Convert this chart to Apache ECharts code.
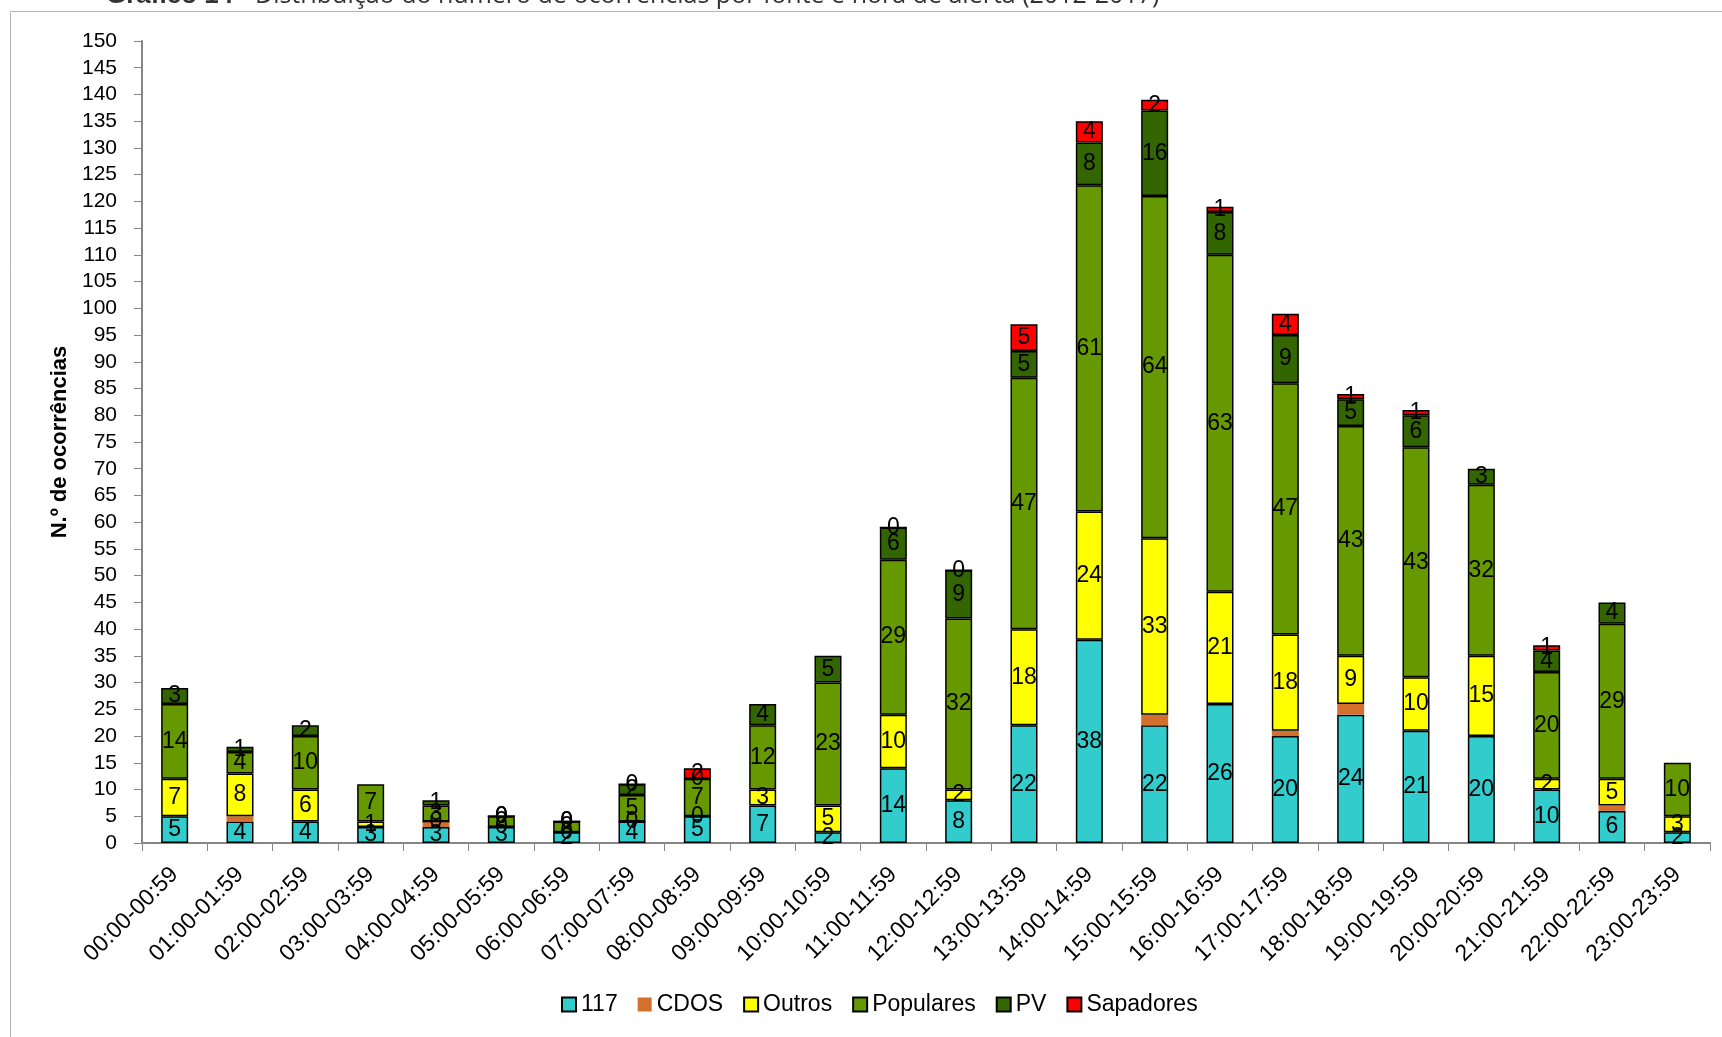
<!DOCTYPE html>
<html>
<head>
<meta charset="utf-8">
<script src="https://cdn.jsdelivr.net/npm/echarts@6/dist/echarts.min.js"></script>
<style>
  html, body { margin: 0; padding: 0; background: #fff; }
  #chart { width: 1722px; height: 1037px; }
</style>
</head>
<body>
<div id="chart"></div>
<script>
// horas de alerta
const hours = [
  "00:00-00:59", "01:00-01:59", "02:00-02:59", "03:00-03:59", "04:00-04:59", "05:00-05:59",
  "06:00-06:59", "07:00-07:59", "08:00-08:59", "09:00-09:59", "10:00-10:59", "11:00-11:59",
  "12:00-12:59", "13:00-13:59", "14:00-14:59", "15:00-15:59", "16:00-16:59", "17:00-17:59",
  "18:00-18:59", "19:00-19:59", "20:00-20:59", "21:00-21:59", "22:00-22:59", "23:00-23:59"
];
// null = sem valor (sem etiqueta), 0 = etiqueta "0" visível
const s117 = [5, 4, 4, 3, 3, 3, 2, 4, 5, 7, 2, 14, 8, 22, 38, 22, 26, 20, 24, 21, 20, 10, 6, 2];
const cdos = [null, 1, null, null, 1, null, null, null, null, null, null, null, null, null, null, 2, null, 1, 2, null, null, null, 1, null];
const outros = [7, 8, 6, 1, 0, 0, 0, 0, 0, 3, 5, 10, 2, 18, 24, 33, 21, 18, 9, 10, 15, 2, 5, 3];
const populares = [14, 4, 10, 7, 3, 2, 2, 5, 7, 12, 23, 29, 32, 47, 61, 64, 63, 47, 43, 43, 32, 20, 29, 10];
const pv = [3, 1, 2, null, 1, 0, 0, 2, 0, 4, 5, 6, 9, 5, 8, 16, 8, 9, 5, 6, 3, 4, 4, null];
const sapadores = [null, null, null, null, null, 0, 0, 0, 2, null, null, 0, 0, 5, 4, 2, 1, 4, 1, 1, null, 1, null, null];

const regular = "'Liberation Sans', Arial, sans-serif";

const chart = echarts.init(document.getElementById("chart"), null, { renderer: "canvas" });

const mkSeries = (name, data, color, withLabel, border) => ({
  name: name,
  type: "bar",
  stack: "total",
  data: data,
  barWidth: 27,
  itemStyle: {
    color: color,
    borderColor: "#000",
    borderWidth: border
  },
  label: {
    show: withLabel,
    position: "inside",
    color: "#000",
    fontFamily: regular,
    fontSize: 23,
    formatter: (p) => (p.value === null || p.value === undefined ? "" : String(p.value))
  },
  emphasis: { disabled: true }
});

const option = {
  animation: false,
  backgroundColor: "#fff",
  graphic: [
    {
      type: "rect",
      shape: { x: 10.5, y: 11.5, width: 1760, height: 1100 },
      style: { fill: "none", stroke: "#b4b4b4", lineWidth: 1 },
      silent: true
    },
    {
      type: "text",
      left: 106,
      top: -17,
      style: {
        text: "Gráfico 14 –",
        font: "bold 26px " + regular,
        fill: "#333"
      },
      silent: true
    },
    {
      type: "text",
      left: 255,
      top: -17,
      style: {
        text: "Distribuição do número de ocorrências por fonte e hora de alerta (2012-2017)",
        font: "25px 'Open Sans', " + regular,
        fill: "#333"
      },
      silent: true
    }
  ],
  grid: {
    left: 142,
    right: 12,
    top: 41,
    bottom: 194
  },
  legend: {
    left: 556,
    top: 988,
    itemWidth: 14,
    itemHeight: 14,
    itemGap: 20,
    icon: "rect",
    textStyle: {
      fontFamily: regular,
      fontSize: 23,
      color: "#000"
    },
    data: ["117", "CDOS", "Outros", "Populares", "PV", "Sapadores"]
  },
  xAxis: {
    type: "category",
    data: hours,
    axisLine: { lineStyle: { color: "#868686", width: 2 } },
    axisTick: { show: true, length: 8, lineStyle: { color: "#868686" } },
    axisLabel: {
      rotate: 45,
      interval: 0,
      margin: 28,
      color: "#000",
      fontFamily: regular,
      fontSize: 23
    }
  },
  yAxis: {
    type: "value",
    min: 0,
    max: 150,
    interval: 5,
    name: "N.º de ocorrências",
    nameLocation: "middle",
    nameGap: 70,
    nameRotate: 90,
    nameTextStyle: {
      fontFamily: regular,
      fontWeight: "bold",
      fontSize: 22,
      color: "#000"
    },
    axisLine: { show: true, lineStyle: { color: "#868686", width: 2 } },
    axisTick: { show: true, length: 8, lineStyle: { color: "#868686" } },
    splitLine: { show: false },
    axisLabel: {
      margin: 25,
      color: "#000",
      fontFamily: regular,
      fontSize: 21
    }
  },
  series: [
    mkSeries("117", s117, "#33CCCC", true, 1.5),
    mkSeries("CDOS", cdos, "#D4702E", false, 0),
    mkSeries("Outros", outros, "#FFFF00", true, 1.5),
    mkSeries("Populares", populares, "#669900", true, 1.5),
    mkSeries("PV", pv, "#336600", true, 1.5),
    mkSeries("Sapadores", sapadores, "#FF0000", true, 1.5)
  ]
};

chart.setOption(option);
</script>
</body>
</html>
